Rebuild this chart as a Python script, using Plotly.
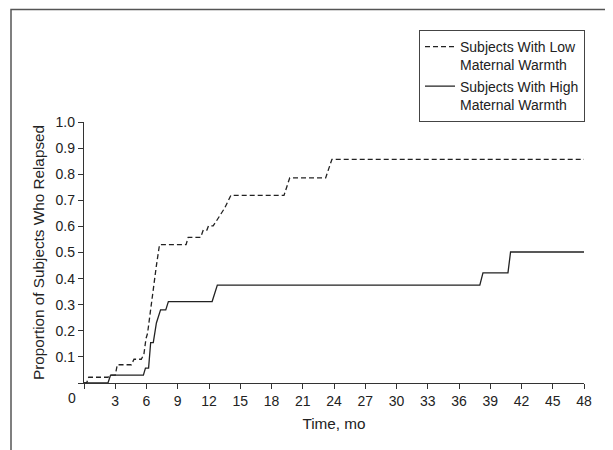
import plotly.graph_objects as go

# Time (months) and cumulative proportion relapsed
low_t = [0, 0.25, 0.45, 2.3, 2.5, 3.0, 3.2, 4.55, 4.8, 5.5, 5.75, 5.95, 6.1,
         6.5, 6.95, 7.25, 9.8, 10.0, 11.2, 11.45, 11.8, 11.95, 12.4, 12.7,
         13.2, 13.5, 14.1, 19.2, 19.75, 23.2, 23.8, 48]
low_v = [0, 0, 0.022, 0.022, 0.03, 0.03, 0.07, 0.07, 0.091, 0.091, 0.11, 0.17,
         0.19, 0.32, 0.45, 0.53, 0.53, 0.558, 0.558, 0.586, 0.586, 0.602, 0.602,
         0.62, 0.65, 0.67, 0.719, 0.719, 0.786, 0.786, 0.857, 0.857]

high_t = [0, 2.3, 2.55, 5.7, 5.9, 6.2, 6.4, 6.65, 6.95, 7.35, 7.85, 8.1,
          12.3, 12.8, 38.0, 38.3, 40.7, 40.95, 48]
high_v = [0, 0, 0.03, 0.03, 0.057, 0.057, 0.155, 0.155, 0.23, 0.28, 0.28,
          0.312, 0.312, 0.375, 0.375, 0.422, 0.422, 0.502, 0.502]

x_ticks = list(range(0, 49, 3))
x_ticktext = [""] + [str(v) for v in x_ticks[1:]]
y_ticks = [round(i / 10, 1) for i in range(0, 11)]
y_ticktext = [""] + ["%.1f" % v for v in y_ticks[1:]]

FONT = "Liberation Sans, Arial, Helvetica, sans-serif"
INK = "#222222"

fig = go.Figure()
fig.add_trace(go.Scatter(
    x=low_t, y=low_v, mode="lines",
    name="Subjects With Low<br>Maternal Warmth",
    line=dict(color=INK, width=1.3, dash="5px,3px")))
fig.add_trace(go.Scatter(
    x=high_t, y=high_v, mode="lines",
    name="Subjects With High<br>Maternal Warmth",
    line=dict(color=INK, width=1.3)))

fig.update_layout(
    width=613, height=450,
    margin=dict(l=76, r=37, t=114, b=75),
    paper_bgcolor="white", plot_bgcolor="white",
    font=dict(family=FONT, size=14, color="#222222"),
    showlegend=True,
    legend=dict(
        x=1.0016, xanchor="right", y=1.353, yanchor="top",
        bordercolor="#444444", borderwidth=1.2,
        font=dict(family=FONT, size=14, color="#222222"),
        valign="top", tracegroupgap=0, itemclick=False,
    ),
    xaxis=dict(
        range=[0, 48], tickvals=x_ticks, ticktext=x_ticktext,
        showgrid=False, zeroline=False,
        showline=True, linecolor="#333333", linewidth=1.4,
        ticks="outside", ticklen=5, tickwidth=1.2, tickcolor="#333333",
        tickfont=dict(size=14),
        title=dict(text="Time, mo", font=dict(size=15.3), standoff=10),
        fixedrange=True,
    ),
    yaxis=dict(
        range=[0, 1.0], tickvals=y_ticks, ticktext=y_ticktext,
        showgrid=False, zeroline=False,
        showline=True, linecolor="#333333", linewidth=1.4,
        ticks="outside", ticklen=5, tickwidth=1.2, tickcolor="#333333",
        tickfont=dict(size=14),
        title=dict(text="Proportion of Subjects Who Relapsed", font=dict(size=15.3), standoff=7),
        fixedrange=True,
    ),
    annotations=[dict(
        text="0", xref="paper", x=-0.025, yref="paper", y=-0.057,
        xanchor="center", yanchor="middle", showarrow=False,
        font=dict(family=FONT, size=14, color="#222222"))],
    shapes=[dict(
        type="rect", xref="paper", yref="paper",
        x0=-0.146, x1=1.5, y0=-0.5, y1=1.431,
        line=dict(color="#555555", width=1.5), fillcolor="rgba(0,0,0,0)",
        layer="below")],
)

fig.write_html("out.html")
